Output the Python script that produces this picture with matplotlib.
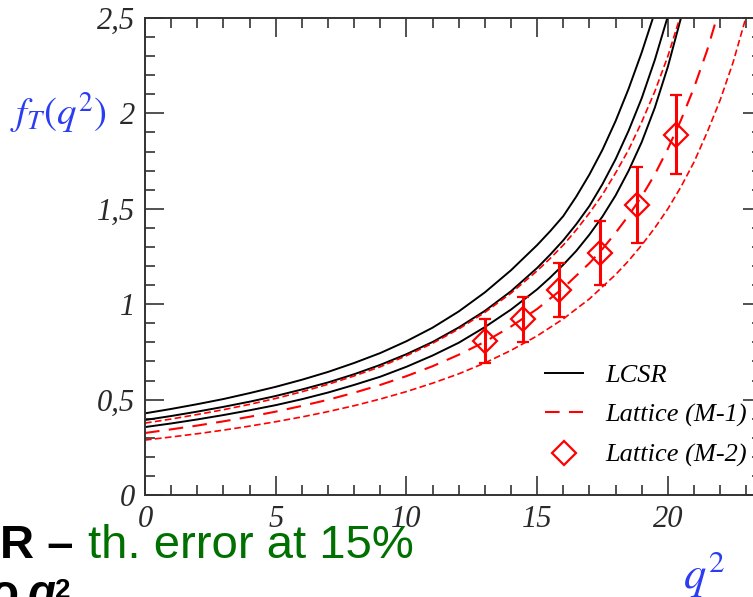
import matplotlib
matplotlib.use("Agg")
import matplotlib.pyplot as plt
from matplotlib.lines import Line2D

plt.rcParams['mathtext.fontset'] = 'stix'

# ---------------- data ----------------
q2_lcsr_up = [0, 1, 2, 3, 4, 5, 6, 7, 8, 9, 10, 11, 12, 13, 14, 15, 15.5, 16, 16.5, 17, 17.5, 18, 18.5, 19, 19.5, 20]
f_lcsr_up = [0.428, 0.451, 0.476, 0.503, 0.534, 0.567, 0.604, 0.645, 0.692, 0.744, 0.806, 0.877, 0.962, 1.062,
             1.178, 1.31, 1.383, 1.462, 1.565, 1.68, 1.81, 1.96, 2.13, 2.32, 2.53, 2.78]

q2_lcsr_c = [0, 1, 2, 3, 4, 5, 6, 7, 8, 9, 10, 11, 12, 13, 14, 15, 15.5, 16, 16.5, 17, 17.5, 18, 18.5, 19, 19.5, 20, 20.5]
f_lcsr_c = [0.393, 0.414, 0.437, 0.462, 0.489, 0.519, 0.553, 0.590, 0.633, 0.682, 0.738, 0.802, 0.878, 0.965,
            1.068, 1.19, 1.26, 1.335, 1.42, 1.515, 1.63, 1.76, 1.91, 2.08, 2.28, 2.51, 2.8]

q2_lcsr_lo = [0, 1, 2, 3, 4, 5, 6, 7, 8, 9, 10, 11, 12, 13, 14, 15, 15.5, 16, 16.5, 17, 17.5, 18, 18.5, 19, 19.5, 20, 20.5, 21]
f_lcsr_lo = [0.356, 0.375, 0.396, 0.419, 0.444, 0.471, 0.502, 0.537, 0.577, 0.620, 0.672, 0.731, 0.798, 0.880,
             0.972, 1.078, 1.14, 1.207, 1.28, 1.365, 1.46, 1.57, 1.70, 1.85, 2.03, 2.245, 2.50, 2.82]

q2_lat_up = [0, 1, 2, 3, 4, 5, 6, 7, 8, 9, 10, 11, 12, 13, 14, 15, 15.5, 16, 16.5, 17, 17.5, 18, 18.5, 19, 19.5, 20, 20.5, 21]
f_lat_up = [0.377, 0.398, 0.422, 0.447, 0.475, 0.506, 0.541, 0.580, 0.624, 0.672, 0.730, 0.795, 0.870, 0.957,
            1.058, 1.175, 1.24, 1.31, 1.39, 1.478, 1.575, 1.688, 1.81, 1.955, 2.115, 2.30, 2.52, 2.78]

q2_lat_c = [0, 1, 2, 3, 4, 5, 6, 7, 8, 9, 10, 11, 12, 13, 14, 15, 16, 17, 17.5, 18, 18.5, 19, 19.5, 20, 20.5, 21, 21.5, 22, 22.5]
f_lat_c = [0.325, 0.344, 0.364, 0.386, 0.410, 0.437, 0.467, 0.499, 0.536, 0.577, 0.623, 0.675, 0.735, 0.803,
           0.883, 0.975, 1.085, 1.215, 1.29, 1.374, 1.465, 1.565, 1.68, 1.815, 1.965, 2.135, 2.33, 2.56, 2.83]

q2_lat_lo = [0, 1, 2, 3, 4, 5, 6, 7, 8, 9, 10, 11, 12, 13, 14, 15, 16, 17, 18, 18.5, 19, 19.5, 20, 20.5, 21, 21.5, 22, 22.5, 23, 23.5]
f_lat_lo = [0.288, 0.304, 0.321, 0.340, 0.361, 0.384, 0.409, 0.437, 0.468, 0.503, 0.542, 0.586, 0.635, 0.692,
            0.758, 0.834, 0.923, 1.028, 1.155, 1.228, 1.31, 1.40, 1.50, 1.615, 1.745, 1.90, 2.07, 2.27, 2.51, 2.80]

q2_pts = [13.0, 14.46, 15.83, 17.4, 18.81, 20.3]
f_pts = [0.807, 0.92, 1.074, 1.268, 1.52, 1.887]
f_err = [0.113, 0.118, 0.14, 0.168, 0.20, 0.207]

xtick_vals = [0, 5, 10, 15, 20]
xtick_labels = ['0', '5', '10', '15', '20']
ytick_vals = [0, 0.5, 1, 1.5, 2, 2.5]
ytick_labels = ['0', '0,5', '1', '1,5', '2', '2,5']

legend_labels = ['LCSR', 'Lattice (M-1)', 'Lattice (M-2)']

# ---------------- figure ----------------
W, H = 753, 597
fig = plt.figure(figsize=(W / 100, H / 100), dpi=100)
ax = fig.add_axes([145 / W, (H - 495) / H, 617 / W, 477 / H])

black_kw = dict(color='black', lw=1.4, solid_capstyle='butt')
ax.plot(q2_lcsr_up, f_lcsr_up, **black_kw)
ax.plot(q2_lcsr_c, f_lcsr_c, **black_kw)
ax.plot(q2_lcsr_lo, f_lcsr_lo, **black_kw)

short_kw = dict(color='red', lw=1.2, dashes=(4, 2))
ax.plot(q2_lat_up, f_lat_up, **short_kw)
ax.plot(q2_lat_lo, f_lat_lo, **short_kw)
ax.plot(q2_lat_c, f_lat_c, color='red', lw=1.5, dashes=(7, 4.5))

ax.errorbar(q2_pts, f_pts, yerr=f_err, fmt='none', ecolor='red', elinewidth=2.2,
            capsize=4, capthick=1.6, zorder=4)
ax.plot(q2_pts, f_pts, linestyle='none', marker='D', ms=12, mfc='none', mec='red', mew=1.6, zorder=5)

ax.set_xlim(0, 23.6)
ax.set_ylim(0, 2.5)
ax.set_xticks(xtick_vals)
ax.set_xticklabels(xtick_labels)
ax.set_yticks(ytick_vals)
ax.set_yticklabels(ytick_labels)
ax.set_xticks([v for v in range(0, 24)], minor=True)
ax.set_yticks([i / 10 for i in range(0, 26)], minor=True)

ax.tick_params(which='both', direction='in', top=True, right=True, width=1.1, color='#222222')
ax.tick_params(which='major', length=14)
ax.tick_params(which='minor', length=7)
ax.tick_params(axis='y', which='major', pad=7)
ax.tick_params(axis='x', which='major', pad=7)
for lab in ax.get_xticklabels() + ax.get_yticklabels():
    lab.set_fontfamily('Liberation Serif')
    lab.set_fontstyle('italic')
    lab.set_fontsize(22)
    lab.set_color('#2a2a2a')
for sp in ax.spines.values():
    sp.set_linewidth(1.4)
    sp.set_color('#333333')

handles = [
    Line2D([], [], color='black', lw=1.4),
    Line2D([], [], color='red', lw=1.5, dashes=(7, 4.5)),
    Line2D([], [], linestyle='none', marker='D', ms=12, mfc='none', mec='red', mew=1.6),
]
leg = ax.legend(handles, legend_labels, loc='lower left', bbox_to_anchor=(0.648, 0.058),
                frameon=False, borderpad=0, borderaxespad=0, handlelength=1.45,
                handletextpad=0.83, labelspacing=0.62, numpoints=1,
                prop={'family': 'Liberation Serif', 'style': 'italic', 'size': 19})

blue = '#2b3df2'
fig.text(10 / W, (H - 113) / H, r'$f_T(q^2)$', fontsize=28, color=blue, ha='left', va='center')
fig.text(683 / W, (H - 588) / H, r'$q^2$', fontsize=32, color=blue, ha='left', va='baseline')

# slide text around the chart
fig.text(0 / W, (H - 558) / H, 'R \u2013', fontsize=34, fontweight='bold', color='black',
         family='Liberation Sans', ha='left', va='baseline')
fig.text(88 / W, (H - 558) / H, 'th. error at 15%', fontsize=34, color='#007000',
         family='Liberation Sans', ha='left', va='baseline')
fig.text(-10 / W, (H - 607) / H, 'o', fontsize=33, fontweight='bold', color='black',
         family='Liberation Sans', ha='left', va='baseline')
fig.text(28 / W, (H - 607) / H, 'q', fontsize=33, fontweight='bold', fontstyle='italic', color='black',
         family='Liberation Sans', ha='left', va='baseline')
fig.text(55 / W, (H - 598) / H, '2', fontsize=20, fontweight='bold', color='black',
         family='Liberation Sans', ha='left', va='baseline')

fig.savefig('out.png', dpi=100)
